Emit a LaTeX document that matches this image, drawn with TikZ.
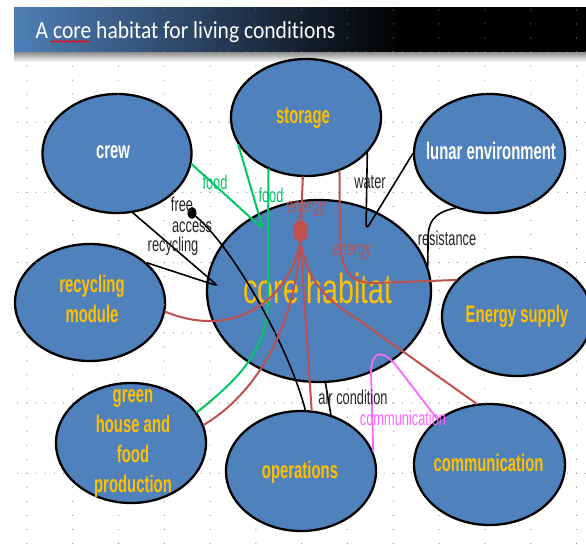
\documentclass[tikz,border=0pt]{standalone}
\usepackage{fontspec}
\setmainfont{Liberation Sans}
\newfontfamily\nodefam[FakeStretch=0.62]{Liberation Sans}
\newfontfamily\corefam[FakeStretch=0.68]{Liberation Sans}
\newfontfamily\labfam[FakeStretch=0.64]{Liberation Sans}
\newfontfamily\titlefam[FakeStretch=0.88,Ligatures=NoCommon]{Carlito}
\usetikzlibrary{shapes.geometric,decorations.pathmorphing}
\definecolor{ellblue}{HTML}{4F81BD}
\definecolor{nodeyellow}{HTML}{FFC000}
\definecolor{linered}{HTML}{C0504D}
\definecolor{linegreen}{HTML}{00C864}
\definecolor{linemag}{HTML}{FF66FF}
\definecolor{hdrblue}{HTML}{4F7FB8}
\definecolor{hdrmid}{HTML}{1E3250}
\definecolor{griddot}{HTML}{8A8A8A}
\tikzset{
  ell/.style={ellipse, draw=black, line width=2.3pt, fill=ellblue, inner sep=0pt},
  ntext/.style={font=\nodefam\fontsize{24}{30}\selectfont\bfseries, text=nodeyellow, align=center, inner sep=0pt},
  wtext/.style={ntext, text=white},
  lab/.style={font=\labfam\fontsize{20}{22}\selectfont, inner sep=0pt, text=black!85},
  redl/.style={draw=linered, line width=2pt, line cap=round},
  greenl/.style={draw=linegreen, line width=2pt, line cap=round},
  blackl/.style={draw=black, line width=1.6pt, line cap=round},
  magl/.style={draw=linemag, line width=1.8pt, line cap=round},
}
\begin{document}
\begin{tikzpicture}[x=1pt,y=-1pt]
\useasboundingbox (0,0) rectangle (586,544);
\fill[white] (0,0) rectangle (586,544);
% header
\shade[left color=hdrblue, middle color=hdrmid, right color=black] (14,7) rectangle (400,52);
\fill[black] (399.5,7) rectangle (586,52);
\shade[top color=black!45, bottom color=white] (14,52) rectangle (586,62);
\node[font=\titlefam\fontsize{24.5}{26}\selectfont, text=white, anchor=base west, inner sep=0pt] (title) at (35.5,38.5) {A core habitat for living conditions};
\draw[red, line width=0.7pt, decorate, decoration={snake, amplitude=0.9pt, segment length=3pt}] (50.5,41.5) -- (90,41.5);

% ellipses
\node[ell, minimum width=149pt, minimum height=119pt] (crew) at (117,153.5) {};
\node[ell, minimum width=150pt, minimum height=117pt] (storage) at (306,117.5) {};
\node[ell, minimum width=151pt, minimum height=119pt] (lunar) at (489.5,153.5) {};
\node[ell, minimum width=224pt, minimum height=182pt] (core) at (319,291) {};
\node[ell, minimum width=150pt, minimum height=117pt] (rec) at (90,302.5) {};
\node[ell, minimum width=150pt, minimum height=120pt] (gh) at (131,443) {};
\node[ell, minimum width=150pt, minimum height=120pt] (ops) at (301,471) {};
\node[ell, minimum width=151pt, minimum height=121pt] (comm) at (489.5,464.5) {};
\node[ell, minimum width=150pt, minimum height=119pt] (es) at (517,316.5) {};

% node texts
\node[wtext] (crewT) at (113,152.5) {crew};
\node[ntext] (storageT) at (303,118) {storage};
\node[wtext] (lunarT) at (491,151) {lunar environment};
\node[font=\corefam\fontsize{42}{44}\selectfont, text=nodeyellow, inner sep=0pt] (coreT) at (318,288) {core habitat};
\node[ntext] (recT) at (92,299) {recycling\\module};
\node[ntext] (ghT) at (133,443.5) {green\\house and\\food\\production};
\node[ntext] (opsT) at (300,472) {operations};
\node[ntext] (commT) at (488.5,463) {communication};
\node[ntext] (esT) at (517,316) {Energy supply};

% coordinates
\coordinate (gtip) at (263,229);
\coordinate (wtip) at (366,230);
\coordinate (rtip) at (218,286);
\coordinate (g2a) at (268,300);
\coordinate (r2a) at (340,240);
\coordinate (r2b) at (375,283);
\coordinate (r6a) at (360,321);
\coordinate (m1) at (371,372);
\coordinate (m2) at (398,368);
\coordinate (res1) at (428,240);

% green lines
\draw[greenl, rounded corners=5pt] (crew.-8) -- (gtip) -- (storage.-158);
\draw[greenl] (storage.-126) -- (g2a) .. controls (267,350) and (240,378) .. (gh.25);

% black lines
\draw[blackl, rounded corners=6pt] (storage.-30) -- (wtip) -- (lunar.180);
\draw[blackl] (lunar.-122) .. controls (433,213) and (428,222) .. (res1) -- (core.13);
\draw[blackl, rounded corners=4pt] (crew.-75) -- (rtip) -- (rec.35);
\node[ellipse, fill=black, minimum width=9pt, minimum height=12pt, inner sep=0pt] (fdot) at (192,213) {};
\draw[blackl] (fdot) .. controls (235,250) and (290,350) .. (ops.86);
\draw[blackl] (core.-86) -- (ops.62);

% red lines
\draw[redl] (storage.-93) -- (300.5,231);
\draw[redl] (storage.-58) -- (r2a) .. controls (341,272) and (350,283) .. (r2b) -- (es.149);
\node[ellipse, fill=linered, minimum width=15pt, minimum height=22pt, inner sep=0pt] (hub) at (300.5,231) {};
\draw[redl] (hub.south) .. controls (288,300) and (235,340) .. (rec.-7);
\draw[redl] (hub.south) .. controls (295,320) and (262,390) .. (gh.14);
\draw[redl] (hub.south) -- (ops.80);
\draw[redl] (hub.south) .. controls (308,285) and (330,302) .. (r6a) -- (comm.102);

% magenta line
\draw[magl] (ops.15) -- (m1) .. controls (372,348) and (384,350) .. (m2) -- (comm.139);

% labels
\node[lab, text=linegreen] (lfood1) at (215,182) {food};
\node[lab, text=linegreen] (lfood2) at (271,195) {food};
\node[lab, text=linered] (lenergy1) at (306,209) {energy};
\node[lab, text=linered] (lenergy2) at (352,252) {energy};
\node[lab] (lwater) at (370,182) {water};
\node[lab] (lfree) at (182,204) {free};
\node[lab] (laccess) at (192,227) {access};
\node[lab] (lrecyc) at (173,246.5) {recycling};
\node[lab] (lresist) at (447,238) {resistance};
\node[lab] (lair) at (353,397) {air condition};
\node[lab, text=linemag] (lcomm) at (403,418) {communication};

% grid overlay
\foreach \k in {0,...,38} {
  \pgfmathsetmacro\yy{9.9+14.04*\k}
  \foreach \c in {0,...,12} {
    \fill[griddot] ({26.9+45.8*\c},\yy) circle (0.6pt);
  }
}
\foreach \m in {0,...,6} {
  \pgfmathsetmacro\yy{52+70.2*\m}
  \foreach \c in {0,...,62} {
    \fill[griddot] ({17.74+9.16*\c},\yy) circle (0.6pt);
  }
}
\end{tikzpicture}
\end{document}
